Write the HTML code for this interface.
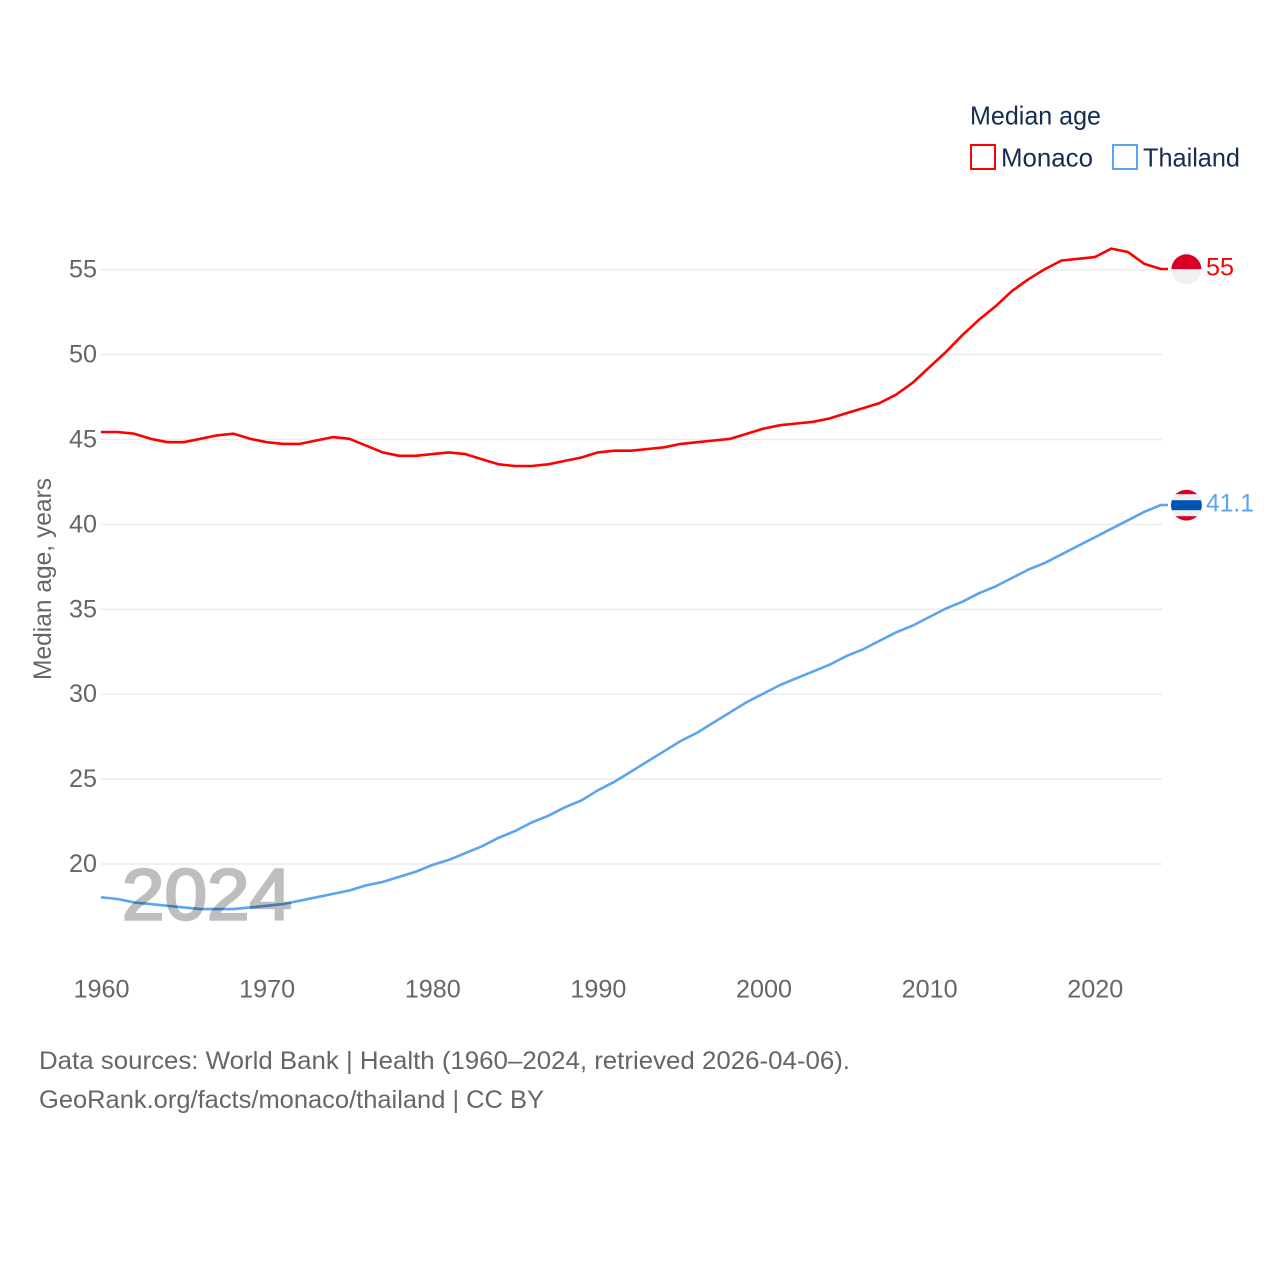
<!DOCTYPE html>
<html lang="en">
<head>
<meta charset="utf-8">
<title>Median age: Monaco and Thailand</title>
<style>
html,body{margin:0;padding:0;background:#fff;width:1280px;height:1280px;overflow:hidden}
svg{display:block;font-family:"Liberation Sans",Arial,sans-serif}
</style>
</head>
<body>
<svg id="chart" xmlns="http://www.w3.org/2000/svg" width="1280" height="1280" viewBox="0 0 1280 1280">
  <rect x="0" y="0" width="1280" height="1280" fill="#fff"/>
  <g id="grid"></g>
  <g id="yticks"></g>
  <g id="xticks"></g>
  <text transform="translate(51,579) rotate(-90)" text-anchor="middle" font-size="25" fill="#666" textLength="202" lengthAdjust="spacingAndGlyphs">Median age, years</text>
  <g id="series"></g>
  <text id="year-label" x="122" y="919.5" font-size="72" fill="#000" stroke="#000" stroke-width="2.5" opacity="0.25" textLength="170" lengthAdjust="spacingAndGlyphs">2024</text>
  <g id="flag-mc">
    <path d="M-15 0A15 15 0 0 1 15 0Z" fill="#d80027"/>
    <path d="M-15 0A15 15 0 0 0 15 0Z" fill="#f0f0f0"/>
  </g>
  <g id="flag-th">
    <clipPath id="th-clip"><circle cx="0" cy="0" r="15.4"/></clipPath>
    <g clip-path="url(#th-clip)">
      <rect x="-16" y="-16" width="32" height="32" fill="#f0f0f0"/>
      <rect x="-16" y="-16" width="32" height="5" fill="#d80027"/>
      <rect x="-16" y="11" width="32" height="5" fill="#d80027"/>
      <rect x="-16" y="-5" width="32" height="10" fill="#0052b4"/>
    </g>
  </g>
  <text id="end-mc" x="1206" font-size="25" fill="#ff0000" textLength="28" lengthAdjust="spacingAndGlyphs"></text>
  <text id="end-th" x="1206" font-size="25" fill="#5aa5ef" textLength="48" lengthAdjust="spacingAndGlyphs"></text>

  <g>
    <text x="970" y="124.5" font-size="26" fill="#162d50" textLength="131" lengthAdjust="spacingAndGlyphs">Median age</text>
    <rect x="971" y="145" width="24" height="24" fill="none" stroke="#ff0000" stroke-width="2"/>
    <text x="1001" y="166.5" font-size="26" fill="#162d50" textLength="92" lengthAdjust="spacingAndGlyphs">Monaco</text>
    <rect x="1113" y="145" width="24" height="24" fill="none" stroke="#5aa5ef" stroke-width="2"/>
    <text x="1143" y="166.5" font-size="26" fill="#162d50" textLength="97" lengthAdjust="spacingAndGlyphs">Thailand</text>
  </g>

  <text x="39" y="1069" font-size="25" fill="#666" textLength="811" lengthAdjust="spacingAndGlyphs">Data sources: World Bank | Health (1960–2024, retrieved 2026-04-06).</text>
  <text x="39" y="1108" font-size="25" fill="#666" textLength="505" lengthAdjust="spacingAndGlyphs">GeoRank.org/facts/monaco/thailand | CC BY</text>
</svg>
<script>
const startYear = 1960;
const endYear = 2024;
const yTickValues = [20, 25, 30, 35, 40, 45, 50, 55];
const xTickValues = [1960, 1970, 1980, 1990, 2000, 2010, 2020];
const monacoValues = [45.4,45.4,45.3,45.0,44.8,44.8,45.0,45.2,45.3,45.0,44.8,44.7,44.7,44.9,45.1,45.0,44.6,44.2,44.0,44.0,44.1,44.2,44.1,43.8,43.5,43.4,43.4,43.5,43.7,43.9,44.2,44.3,44.3,44.4,44.5,44.7,44.8,44.9,45.0,45.3,45.6,45.8,45.9,46.0,46.2,46.5,46.8,47.1,47.6,48.3,49.2,50.1,51.1,52.0,52.8,53.7,54.4,55.0,55.5,55.6,55.7,56.2,56.0,55.3,55.0];
const thailandValues = [18.0,17.9,17.7,17.6,17.5,17.4,17.3,17.3,17.3,17.4,17.5,17.6,17.8,18.0,18.2,18.4,18.7,18.9,19.2,19.5,19.9,20.2,20.6,21.0,21.5,21.9,22.4,22.8,23.3,23.7,24.3,24.8,25.4,26.0,26.6,27.2,27.7,28.3,28.9,29.5,30.0,30.5,30.9,31.3,31.7,32.2,32.6,33.1,33.6,34.0,34.5,35.0,35.4,35.9,36.3,36.8,37.3,37.7,38.2,38.7,39.2,39.7,40.2,40.7,41.1];

const NS = 'http://www.w3.org/2000/svg';
function xScale(year) { return 101 + (year - startYear) * (1161 - 101) / (endYear - startYear); }
function yScale(v) { return 864 - (v - 20) * 16.98; }
function lineY(v) { return yScale(v) - 0.7; }
function make(tag, parent, attrs) {
  const el = document.createElementNS(NS, tag);
  for (const k in attrs) el.setAttribute(k, attrs[k]);
  parent.appendChild(el);
  return el;
}
const gridG = document.getElementById('grid');
const yG = document.getElementById('yticks');
const xG = document.getElementById('xticks');
const seriesG = document.getElementById('series');

yTickValues.forEach(function (v) {
  const line = make('line', gridG, {x1: 101, x2: 1162, y1: yScale(v), y2: yScale(v), stroke: '#ececec', 'stroke-width': 1.5});
  
  
  const t = make('text', yG, {x: 97, y: yScale(v) + 8, 'text-anchor': 'end', 'font-size': 25, fill: '#666', textLength: 28, lengthAdjust: 'spacingAndGlyphs'});
  
  
  t.textContent = v;
});
xTickValues.forEach(function (yr) {
  const t = make('text', xG, {x: xScale(yr) + 0.5, y: 997.5, 'text-anchor': 'middle', 'font-size': 25, fill: '#666', textLength: 56, lengthAdjust: 'spacingAndGlyphs'});
  
  
  t.textContent = yr;
});
function drawSeries(values, color) {
  const pts = values.map(function (v, i) { return xScale(startYear + i).toFixed(1) + ',' + lineY(v).toFixed(1); });
  const last = values[values.length - 1];
  pts.push('1168,' + lineY(last).toFixed(1));
  const line = make('polyline', seriesG, {points: pts.join(' '), fill: 'none', stroke: color, 'stroke-width': 2.6, 'stroke-linejoin': 'round'});
  return line;
}
const monacoLine = drawSeries(monacoValues, '#ff0000');


const thailandLine = drawSeries(thailandValues, '#5aa5ef');



const monacoLast = monacoValues[monacoValues.length - 1];
const thailandLast = thailandValues[thailandValues.length - 1];
document.getElementById('flag-mc').setAttribute('transform', 'translate(1186.4,' + (yScale(monacoLast) - 0.4).toFixed(1) + ')');
document.getElementById('flag-th').setAttribute('transform', 'translate(1186.4,' + (yScale(thailandLast) - 0.5).toFixed(1) + ')');
const endMc = document.getElementById('end-mc');
endMc.setAttribute('y', (yScale(monacoLast) + 6).toFixed(1));
endMc.textContent = monacoLast;
const endTh = document.getElementById('end-th');
endTh.setAttribute('y', (yScale(thailandLast) + 6).toFixed(1));
endTh.textContent = thailandLast;
</script>
</body>
</html>
